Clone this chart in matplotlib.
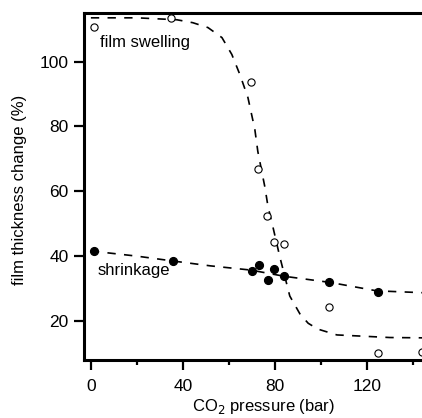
import matplotlib
matplotlib.use("Agg")
import matplotlib.pyplot as plt
from matplotlib.ticker import MultipleLocator

plt.rcParams['font.family'] = ['Liberation Sans', 'DejaVu Sans']

swell_p = [1.3, 35, 69.6, 72.6, 76.5, 79.6, 84, 103.5, 124.8, 144]
swell_v = [110.8, 113.5, 93.8, 66.8, 52.4, 44.3, 43.7, 24.3, 10.2, 10.5]

shrink_p = [1.3, 35.7, 70, 73, 77, 79.6, 84, 103.5, 124.8]
shrink_v = [41.5, 38.5, 35.4, 37.2, 32.6, 36.0, 33.8, 32.0, 28.9]

# dashed guide curves
swell_fit_p = [0, 20, 37.4, 44.3, 50.9, 57, 61.3, 64.8, 68.3, 71.3, 72.6, 75.7,
               77, 79.1, 82.2, 86.5, 90.9, 94.5, 98.7, 107, 115.7, 130, 145]
swell_fit_v = [113.5, 113.5, 112.9, 112, 110.5, 107.4, 102.2, 96, 88.9, 79.1, 72.3,
               61.2, 55.4, 49.2, 39.7, 27.7, 22.2, 19.3, 17.5, 15.7, 15.4, 14.9, 14.8]

shrink_fit_p = [0, 20, 35.7, 52, 69.6, 84, 104, 124.3, 145]
shrink_fit_v = [41.6, 40.0, 38.5, 37.0, 35.7, 33.8, 31.9, 29.3, 28.7]

fig = plt.figure(figsize=(4.22, 4.18), dpi=100)
ax = fig.add_axes([0.199, 0.139, 0.801, 0.830])

dash = (0, (5, 5))
ax.plot(swell_fit_p, swell_fit_v, color='black', lw=1.2, linestyle=dash)
ax.plot(shrink_fit_p, shrink_fit_v, color='black', lw=1.2, linestyle=dash)

ax.plot(swell_p, swell_v, 'o', mfc='white', mec='black', mew=0.8, ms=5.2,
        linestyle='none', zorder=3)
ax.plot(shrink_p, shrink_v, 'o', mfc='black', mec='black', ms=5.6,
        linestyle='none', zorder=3)

ax.text(3.9, 105.8, "film swelling", fontsize=12, va='center', ha='left')
ax.text(3.0, 35.5, "shrinkage", fontsize=12, va='center', ha='left')

ax.set_xlim(-3, 144)
ax.set_ylim(8, 115)
ax.xaxis.set_major_locator(MultipleLocator(40))
ax.xaxis.set_minor_locator(MultipleLocator(20))
ax.yaxis.set_major_locator(MultipleLocator(20))

ax.tick_params(axis='both', which='major', direction='out', length=7,
               width=1.6, labelsize=12.5)
ax.tick_params(axis='x', which='major', pad=7)
ax.tick_params(axis='y', which='major', pad=4)
ax.tick_params(axis='both', which='minor', direction='out', length=3.5, width=1.6)

for side in ['left', 'bottom', 'top']:
    ax.spines[side].set_linewidth(2.2)
ax.spines['right'].set_visible(False)

ax.set_xlabel("CO$_2$ pressure (bar)", fontsize=12)
ax.set_ylabel("film thickness change (%)", fontsize=12)
ax.xaxis.set_label_coords(0.53, -0.108)
ax.yaxis.set_label_coords(-0.169, 0.49)

fig.savefig("out.png", dpi=100)
